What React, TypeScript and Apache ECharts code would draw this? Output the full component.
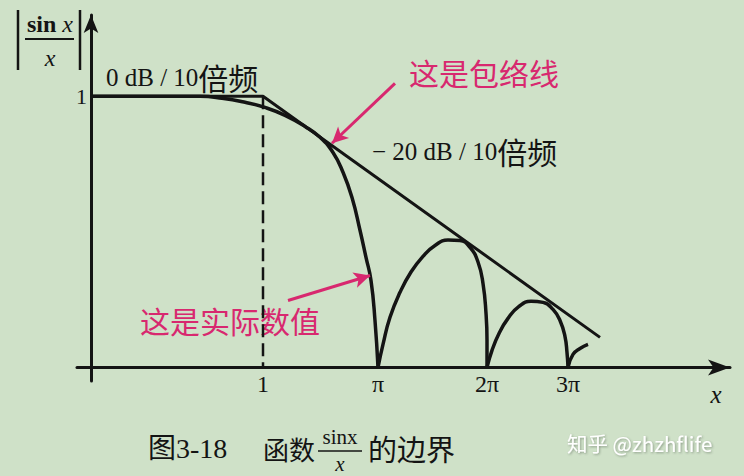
import React, { useEffect, useRef } from 'react';
import * as echarts from 'echarts';

// Schematic axis units (x: horizontal units, y: |sin x / x| display units)
const xTickPos = [172, 287, 396, 477];
const xTickLabels = ['1', 'π', '2π', '3π'];
const yTickPos = [1];
const yTickLabels = ['1'];

const actualMain = [
  [0, 1], [109, 1], [131, 0.993], [154, 0.978], [174, 0.959], [194, 0.93], [214, 0.889],
  [229, 0.849], [242, 0.793], [252, 0.72], [261, 0.627], [269, 0.506], [275, 0.406],
  [280, 0.321], [284, 0.173], [287, 0],
];
const lobe1 = [
  [287, 0], [292, 0.085], [299, 0.185], [309, 0.277], [320, 0.352], [332, 0.41], [344, 0.45],
  [357, 0.47], [369, 0.468], [379, 0.443], [387, 0.389], [392, 0.31], [395, 0.2], [396, 0.1], [396, 0],
];
const lobe2 = [
  [396, 0], [401, 0.063], [408, 0.125], [417, 0.181], [428, 0.225], [440, 0.244], [452, 0.24],
  [462, 0.214], [469, 0.173], [474, 0.114], [476, 0.055], [477, 0],
];
const lobe3 = [[477, 0], [482, 0.048], [489, 0.07], [497, 0.085]];
const envelope = [[0, 1], [172, 1], [509, 0.111]];
const cornerGuide = [[172, 1], [172, 0]];
const envelopeArrow = [[304, 1.048], [241, 0.827]];
const actualArrow = [[197, 0.247], [279, 0.339]];

const INK = '#141414';
const PINK = '#d8286f';
const SERIF = '"Liberation Serif", "Noto Sans CJK SC", serif';
const CJK = '"Noto Sans CJK SC", sans-serif';

export default function App() {
  const ref = useRef<HTMLDivElement>(null);

  useEffect(() => {
    if (!ref.current) return;
    const chart = echarts.init(ref.current, null, { renderer: 'svg' });

    const curve = (name: string, data: number[][], width = 3.5) => ({
      name,
      type: 'line',
      data,
      smooth: 0.5,
      showSymbol: false,
      symbol: 'none',
      silent: true,
      lineStyle: { color: INK, width },
      z: 3,
    });

    const option: any = {
      animation: false,
      backgroundColor: '#cfe1c8',
      grid: { left: 77, right: 14, top: 15, bottom: 95, containLabel: false, outerBoundsMode: 'none' },
      xAxis: {
        type: 'value',
        min: -14,
        max: 639,
        splitLine: { show: false },
        axisTick: { show: false },
        axisLine: {
          onZero: true,
          symbol: ['none', 'arrow'],
          symbolSize: [12, 22],
          lineStyle: { color: INK, width: 3 },
        },
        axisLabel: {
          customValues: xTickPos,
          formatter: (v: number) => xTickLabels[xTickPos.indexOf(v)] ?? '',
          color: INK,
          fontSize: 24,
          fontFamily: SERIF,
          margin: -9,
        },
      },
      yAxis: {
        type: 'value',
        min: -0.05,
        max: 1.3,
        splitLine: { show: false },
        axisTick: { show: false },
        axisLine: {
          onZero: true,
          symbol: ['none', 'arrow'],
          symbolSize: [11, 18],
          lineStyle: { color: INK, width: 3 },
        },
        axisLabel: {
          customValues: yTickPos,
          formatter: (v: number) => yTickLabels[yTickPos.indexOf(v)] ?? '',
          color: INK,
          fontSize: 22,
          fontFamily: SERIF,
          margin: -10,
        },
      },
      series: [
        {
          ...curve('envelope', envelope, 3),
          smooth: false,
          markLine: {
            silent: true,
            symbol: ['none', 'arrow'],
            symbolSize: [12, 16],
            label: { show: false },
            lineStyle: { color: PINK, width: 3, type: 'solid' },
            data: [
              [{ coord: envelopeArrow[0] }, { coord: envelopeArrow[1] }],
              [{ coord: actualArrow[0] }, { coord: actualArrow[1] }],
            ],
            z: 6,
          },
        },
        {
          name: 'guide',
          type: 'line',
          data: cornerGuide,
          showSymbol: false,
          symbol: 'none',
          silent: true,
          lineStyle: { color: INK, width: 2.5, type: [13, 6] },
          z: 2,
        },
        curve('actual', actualMain),
        curve('lobe1', lobe1),
        curve('lobe2', lobe2),
        curve('lobe3', lobe3),
      ],
      graphic: [
        // y-axis title |sin x / x|
        { type: 'line', shape: { x1: 18, y1: 10, x2: 18, y2: 70 }, style: { stroke: INK, lineWidth: 2.5 } },
        { type: 'line', shape: { x1: 80, y1: 10, x2: 80, y2: 70 }, style: { stroke: INK, lineWidth: 2.5 } },
        { type: 'line', shape: { x1: 25, y1: 39, x2: 74, y2: 39 }, style: { stroke: INK, lineWidth: 2 } },
        {
          type: 'text', x: 50, y: 24,
          style: {
            text: '{a|sin }{b|x}', textAlign: 'center', textVerticalAlign: 'middle',
            rich: {
              a: { fontSize: 24, fontFamily: SERIF, fill: INK, fontWeight: 'bold' },
              b: { fontSize: 24, fontFamily: SERIF, fill: INK, fontStyle: 'italic' },
            },
          },
        },
        {
          type: 'text', x: 50, y: 58,
          style: { text: 'x', fontSize: 24, fontFamily: SERIF, fontStyle: 'italic', fill: INK, textAlign: 'center', textVerticalAlign: 'middle' },
        },
        // x axis name
        {
          type: 'text', x: 716, y: 394,
          style: { text: 'x', fontSize: 25, fontFamily: SERIF, fontStyle: 'italic', fill: INK, textAlign: 'center', textVerticalAlign: 'middle' },
        },
        // slope annotations
        {
          type: 'text', x: 106, y: 77,
          style: {
            text: '{a|0 dB / 10}{b|倍频}', textVerticalAlign: 'middle',
            rich: {
              a: { fontSize: 25, fontFamily: SERIF, fill: INK },
              b: { fontSize: 30, fontFamily: CJK, fill: INK },
            },
          },
        },
        {
          type: 'text', x: 372, y: 151,
          style: {
            text: '{a|− 20 dB / 10}{b|倍频}', textVerticalAlign: 'middle',
            rich: {
              a: { fontSize: 25, fontFamily: SERIF, fill: INK },
              b: { fontSize: 30, fontFamily: CJK, fill: INK },
            },
          },
        },
        // pink notes
        {
          type: 'text', x: 409, y: 72,
          style: { text: '这是包络线', fontSize: 30, fontFamily: CJK, fill: PINK, textVerticalAlign: 'middle' },
        },
        {
          type: 'text', x: 140, y: 320,
          style: { text: '这是实际数值', fontSize: 30, fontFamily: CJK, fill: PINK, textVerticalAlign: 'middle' },
        },
        // caption
        {
          type: 'text', x: 148, y: 448,
          style: { text: '图3-18', fontSize: 28, fontFamily: SERIF, fill: INK, textVerticalAlign: 'middle' },
        },
        {
          type: 'text', x: 263, y: 448,
          style: { text: '函数', fontSize: 26, fontFamily: CJK, fill: INK, textVerticalAlign: 'middle' },
        },
        {
          type: 'text', x: 340, y: 437,
          style: { text: 'sinx', fontSize: 21, fontFamily: SERIF, fill: INK, textAlign: 'center', textVerticalAlign: 'middle' },
        },
        { type: 'line', shape: { x1: 318, y1: 451, x2: 362, y2: 451 }, style: { stroke: INK, lineWidth: 1.5 } },
        {
          type: 'text', x: 340, y: 464,
          style: { text: 'x', fontSize: 21, fontFamily: SERIF, fontStyle: 'italic', fill: INK, textAlign: 'center', textVerticalAlign: 'middle' },
        },
        {
          type: 'text', x: 368, y: 448,
          style: { text: '的边界', fontSize: 29, fontFamily: CJK, fill: INK, textVerticalAlign: 'middle' },
        },
        // watermark
        {
          type: 'text', x: 567, y: 443,
          style: {
            text: '知乎 @zhzhflife', fontSize: 20.5, fontFamily: CJK, fill: '#ffffff', textVerticalAlign: 'middle',
            textShadowColor: 'rgba(60,70,60,0.45)', textShadowBlur: 2, textShadowOffsetX: 1, textShadowOffsetY: 1,
          },
        },
      ],
    };

    chart.setOption(option);
    return () => chart.dispose();
  }, []);

  return <div ref={ref} style={{ width: 744, height: 476, position: 'absolute', left: 0, top: 0 }} />;
}
